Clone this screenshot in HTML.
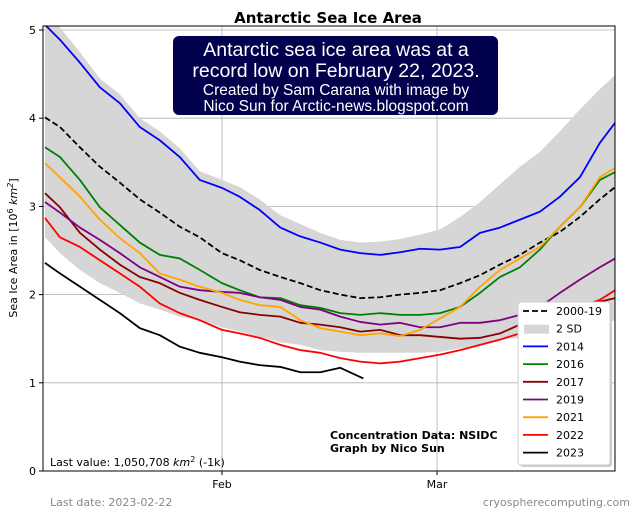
<!DOCTYPE html>
<html><head><meta charset="utf-8"><style>
html,body{margin:0;padding:0;background:#fff;}
svg{display:block;font-family:"DejaVu Sans","Liberation Sans",sans-serif;}
</style></head><body>
<svg id="chart" width="640" height="512" viewBox="0 0 640 512">
<text x="328" y="23" text-anchor="middle" font-size="15" font-weight="bold">Antarctic Sea Ice Area</text>
<g id="grid"></g>
<g id="band"></g>
<g id="series"></g>
<rect x="43" y="26" width="572" height="445" fill="none" stroke="#000" stroke-width="1"/>
<g id="yticks"></g>
<g id="xticks"></g>
<text transform="translate(17,248) rotate(-90)" text-anchor="middle" font-size="11">Sea Ice Area in [10<tspan font-size="8" dy="-4">6</tspan><tspan dy="4" font-style="italic"> km</tspan><tspan font-size="8" dy="-4" font-style="italic">2</tspan><tspan dy="4">]</tspan></text>
<g>
<rect x="173" y="36" width="325" height="79" rx="6" fill="#00004d"/>
<g font-family="'Liberation Sans',sans-serif" fill="#fff" text-anchor="middle">
<text x="336" y="56" font-size="19.5">Antarctic sea ice area was at a</text>
<text x="336" y="77" font-size="19.5">record low on February 22, 2023.</text>
<text x="336" y="95" font-size="15.5">Created by Sam Carana with image by</text>
<text x="336" y="111" font-size="15.5">Nico Sun for Arctic-news.blogspot.com</text>
</g></g>
<text x="50" y="466" font-size="11">Last value: 1,050,708 <tspan font-style="italic">km</tspan><tspan font-size="8" dy="-4">2</tspan><tspan dy="4"> (-1k)</tspan></text>
<text x="330" y="439" font-size="11" font-weight="bold">Concentration Data: NSIDC</text>
<text x="330" y="452" font-size="11" font-weight="bold">Graph by Nico Sun</text>
<text x="50" y="506" font-size="11" fill="#888">Last date: 2023-02-22</text>
<text x="630" y="506" font-size="11" fill="#888" text-anchor="end">cryospherecomputing.com</text>
<g id="legend"></g>
</svg>
<script>
const days = [7.95,9.9,12.5,15.1,17.7,20.3,22.9,25.5,28.1,31.0,33.3,35.9,38.6,41.2,43.8,46.4,49.0,51.6,54.2,56.8,59.4,62.0,64.6,67.2,69.8,72.4,75.0,77.6,80.2,82.2];
const daysBlack = [7.95,9.9,12.5,15.1,17.7,20.3,22.9,25.5,28.1,31.0,33.3,35.9,38.6,41.2,43.8,46.4,49.4];
const mean = [4.01,3.90,3.67,3.45,3.27,3.08,2.93,2.77,2.65,2.47,2.39,2.28,2.20,2.13,2.05,2.00,1.96,1.97,2.00,2.02,2.05,2.13,2.22,2.34,2.45,2.59,2.71,2.88,3.08,3.22];
const sdUpper = [5.30,5.03,4.75,4.45,4.27,4.00,3.85,3.66,3.40,3.30,3.22,3.08,2.90,2.80,2.70,2.62,2.59,2.60,2.63,2.68,2.74,2.88,3.05,3.25,3.45,3.62,3.85,4.10,4.33,4.49];
const sdLower = [2.65,2.47,2.28,2.13,2.02,1.90,1.83,1.75,1.71,1.63,1.58,1.52,1.46,1.43,1.37,1.35,1.34,1.34,1.34,1.34,1.35,1.39,1.43,1.49,1.51,1.52,1.56,1.60,1.66,1.71];
const y2014 = [5.06,4.89,4.63,4.35,4.17,3.90,3.75,3.56,3.30,3.21,3.11,2.96,2.76,2.66,2.59,2.51,2.47,2.45,2.48,2.52,2.51,2.54,2.70,2.76,2.85,2.94,3.11,3.33,3.72,3.95];
const y2016 = [3.67,3.56,3.30,2.99,2.79,2.59,2.45,2.41,2.28,2.13,2.05,1.97,1.96,1.88,1.85,1.79,1.77,1.79,1.77,1.77,1.79,1.86,2.02,2.20,2.31,2.51,2.77,2.99,3.30,3.39];
const y2017 = [3.15,2.99,2.70,2.51,2.34,2.20,2.13,2.02,1.94,1.86,1.80,1.77,1.75,1.68,1.66,1.63,1.58,1.60,1.54,1.54,1.52,1.50,1.51,1.56,1.66,1.73,1.83,1.88,1.92,1.96];
const y2019 = [3.05,2.93,2.76,2.62,2.47,2.31,2.20,2.09,2.05,2.03,2.02,1.97,1.94,1.86,1.83,1.75,1.69,1.66,1.68,1.63,1.63,1.68,1.68,1.71,1.77,1.86,2.02,2.17,2.31,2.41];
const y2021 = [3.49,3.33,3.11,2.85,2.64,2.47,2.24,2.17,2.09,2.02,1.94,1.88,1.86,1.71,1.62,1.58,1.54,1.56,1.53,1.60,1.73,1.86,2.09,2.28,2.41,2.54,2.77,2.99,3.33,3.44];
const y2022 = [2.87,2.65,2.54,2.39,2.24,2.09,1.90,1.79,1.71,1.60,1.56,1.51,1.43,1.37,1.34,1.28,1.24,1.22,1.24,1.28,1.32,1.37,1.43,1.49,1.56,1.66,1.75,1.86,1.94,2.05];
const y2023 = [2.36,2.24,2.09,1.94,1.79,1.62,1.54,1.41,1.34,1.29,1.24,1.20,1.18,1.12,1.12,1.17,1.05];
const yTicks = [0,1,2,3,4,5];
const xTickDays = [31,59];
const xTickLabels = ["Feb","Mar"];
const legendLabels = ["2000-19","2 SD","2014","2016","2017","2019","2021","2022","2023"];

const NS="http://www.w3.org/2000/svg";
const X0=43,X1=615,Y0=471,Y1=26;
const D0=(X0+16.1)/7.68, D1=(X1+16.1)/7.68;
const xs=d=>X0+(d-D0)/(D1-D0)*(X1-X0);
const ys=v=>471-v*88.2;
function mk(tag,attrs,parent){const e=document.createElementNS(NS,tag);for(const k in attrs)e.setAttribute(k,attrs[k]);parent.appendChild(e);return e;}
const grid=document.getElementById('grid'),yt=document.getElementById('yticks'),xt=document.getElementById('xticks');
yTicks.forEach(v=>{
  const g=mk('line',{x1:X0,x2:X1,y1:ys(v),y2:ys(v),stroke:'#b0b0b0','stroke-width':0.8},grid);
  
  
  mk('line',{x1:X0-4,x2:X0,y1:ys(v),y2:ys(v),stroke:'#000'},yt);
  const t=mk('text',{x:X0-7,y:ys(v)+4,'text-anchor':'end','font-size':11},yt);t.textContent=v;
  
  
});
xTickDays.forEach((d,i)=>{
  const g=mk('line',{x1:xs(d),x2:xs(d),y1:Y1,y2:Y0,stroke:'#b0b0b0','stroke-width':0.8},grid);
  
  
  mk('line',{x1:xs(d),x2:xs(d),y1:Y0,y2:Y0+4,stroke:'#000'},xt);
  const t=mk('text',{x:xs(d),y:Y0+17,'text-anchor':'middle','font-size':11},xt);t.textContent=xTickLabels[i];
  
  
});
const clip=mk('clipPath',{id:'pc'},document.getElementById('chart'));
mk('rect',{x:X0,y:Y1,width:X1-X0,height:Y0-Y1},clip);
const band=document.getElementById('band');band.setAttribute('clip-path','url(#pc)');
let p=days.map((d,i)=>xs(d)+','+ys(sdUpper[i])).join(' L')+' L'+days.slice().reverse().map((d,j)=>xs(d)+','+ys(sdLower[days.length-1-j])).join(' L');
const bp=mk('path',{d:'M'+p+'Z',fill:'#d6d6d6',stroke:'none'},band);


const ser=document.getElementById('series');ser.setAttribute('clip-path','url(#pc)');
const lines=[[days,y2014,'#0000ff','series-2014'],[days,y2016,'#008000','series-2016'],[days,y2017,'#8b0000','series-2017'],[days,y2019,'#800080','series-2019'],[days,y2021,'#ffa500','series-2021'],[days,y2022,'#ff0000','series-2022'],[daysBlack,y2023,'#000000','series-2023']];
const m=mk('path',{d:'M'+days.map((d,i)=>xs(d)+','+ys(mean[i])).join(' L'),fill:'none',stroke:'#000','stroke-width':1.8,'stroke-dasharray':'6,3'},ser);


lines.forEach(([dd,vv,c,n])=>{
  const l=mk('path',{d:'M'+dd.map((d,i)=>xs(d)+','+ys(vv[i])).join(' L'),fill:'none',stroke:c,'stroke-width':1.8,'stroke-linejoin':'round'},ser);
  
  
});
const lg=document.getElementById('legend');
mk('rect',{x:520,y:304,width:92,height:163,rx:3,fill:'#ccc'},lg);
mk('rect',{x:518,y:302,width:92,height:163,rx:3,fill:'#fff',stroke:'#ccc'},lg);
const cols=['#000','#d6d6d6','#0000ff','#008000','#8b0000','#800080','#ffa500','#ff0000','#000000'];
legendLabels.forEach((lab,i)=>{
  const y=311+i*17.7;
  if(i===1){mk('rect',{x:524,y:y-4,width:25,height:9,fill:cols[i]},lg);}
  else{mk('line',{x1:523,x2:548,y1:y,y2:y,stroke:cols[i],'stroke-width':1.8,'stroke-dasharray':i===0?'6,3':'none'},lg);}
  const t=mk('text',{x:556,y:y+4,'font-size':11},lg);t.textContent=lab;
  
  
});
</script>
</body></html>
